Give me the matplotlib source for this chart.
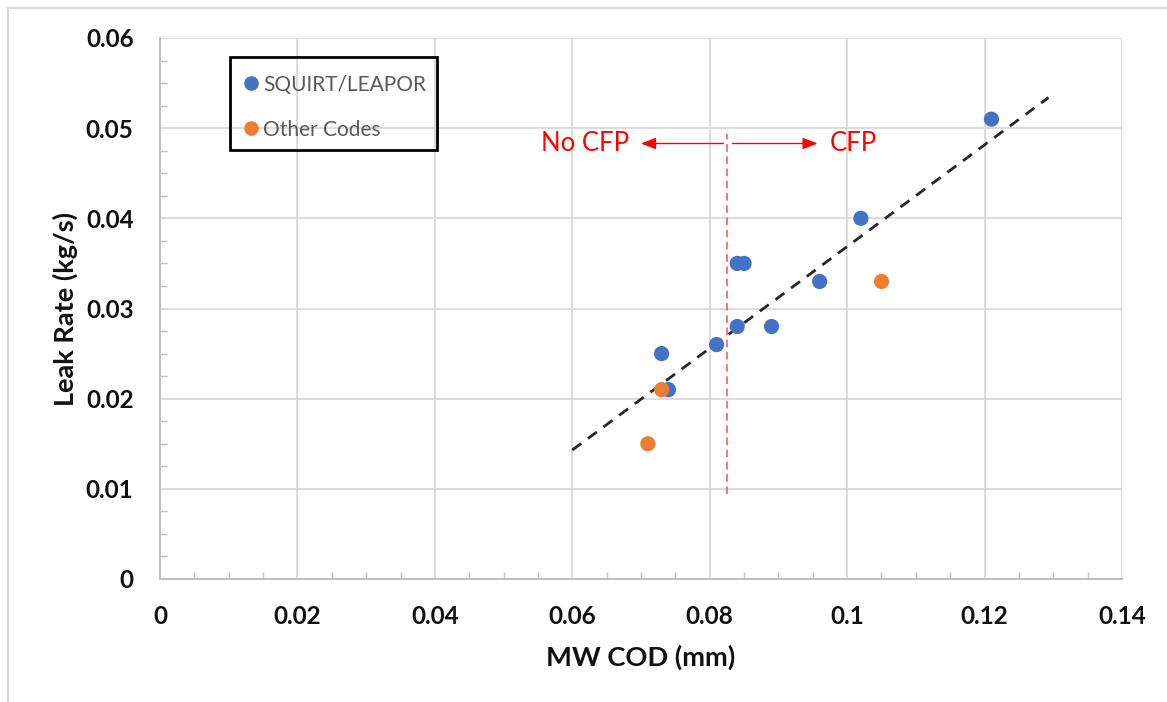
import matplotlib
matplotlib.use("Agg")
import matplotlib.pyplot as plt
from matplotlib.ticker import MultipleLocator, FuncFormatter
from matplotlib.lines import Line2D
from matplotlib.patches import Rectangle

plt.rcParams['font.family'] = ['Lato', 'DejaVu Sans']

# ---- data ----
squirt_x = [0.121, 0.102, 0.084, 0.085, 0.096, 0.084, 0.089, 0.081, 0.073, 0.074]
squirt_y = [0.051, 0.040, 0.035, 0.035, 0.033, 0.028, 0.028, 0.026, 0.025, 0.021]
other_x = [0.073, 0.071, 0.105]
other_y = [0.021, 0.015, 0.033]
trend_x = [0.060, 0.1293]
trend_y = [0.0143, 0.0534]
cfp_x = 0.0825
cfp_y = [0.0094, 0.0494]
arrow_y = 0.0483
left_arrow_x = [0.0820, 0.0700]
right_arrow_x = [0.0833, 0.0957]
series_names = ["SQUIRT/LEAPOR", "Other Codes"]
x_label = "MW COD (mm)"
y_label = "Leak Rate (kg/s)"

W, H = 1167, 702
fig = plt.figure(figsize=(W / 100, H / 100), dpi=100)
ax = fig.add_axes([160 / W, 1 - 579 / H, (1122 - 160) / W, (579 - 38) / H])

blue = "#4472C4"
orange = "#ED7D31"
grid_c = "#d9d9d9"
spine_c = "#bfbfbf"

ax.set_xlim(0, 0.14)
ax.set_ylim(0, 0.06)
ax.xaxis.set_major_locator(MultipleLocator(0.02))
ax.xaxis.set_minor_locator(MultipleLocator(0.005))
ax.yaxis.set_major_locator(MultipleLocator(0.01))
ax.yaxis.set_minor_locator(MultipleLocator(0.0025))

fmt = FuncFormatter(lambda v, p: ("%.2f" % v).rstrip('0').rstrip('.') if v != 0 else "0")
ax.xaxis.set_major_formatter(fmt)
ax.yaxis.set_major_formatter(fmt)

ax.grid(True, which='major', color=grid_c, linewidth=1.3, zorder=0)
for s in ['top', 'right']:
    ax.spines[s].set_visible(False)
for s in ['left', 'bottom']:
    ax.spines[s].set_color(spine_c)
    ax.spines[s].set_linewidth(1.4)
ax.tick_params(which='major', length=0, labelsize=17.5, labelcolor='#111111')
ax.tick_params(axis='y', pad=19)
ax.tick_params(axis='x', pad=19)
ax.tick_params(which='minor', direction='in', length=5, width=1.0, color=spine_c)
for lab in ax.get_xticklabels() + ax.get_yticklabels():
    lab.set_fontweight('bold')

ax.set_xlabel(x_label, fontsize=19.7, fontweight='bold', labelpad=12, color='#111111')
ax.set_ylabel(y_label, fontsize=19.5, fontweight='bold', labelpad=6, color='#111111')

# trend line
ax.plot(trend_x, trend_y, color='#262626', linewidth=2.0, linestyle=(0, (4, 3)), zorder=3)

# CFP threshold
ax.plot([cfp_x, cfp_x], cfp_y, color='#FF4D4D', linewidth=1.1, linestyle=(0, (5, 3)), zorder=2)
ax.annotate("", xy=(left_arrow_x[1], arrow_y), xytext=(left_arrow_x[0], arrow_y),
            arrowprops=dict(arrowstyle='-|>,head_length=0.9,head_width=0.35', color='#FF0000', lw=1.0,
                            shrinkA=0, shrinkB=0))
ax.annotate("", xy=(right_arrow_x[1], arrow_y), xytext=(right_arrow_x[0], arrow_y),
            arrowprops=dict(arrowstyle='-|>,head_length=0.9,head_width=0.35', color='#FF0000', lw=1.0,
                            shrinkA=0, shrinkB=0))
ax.text(0.0683, arrow_y, "No CFP", color='#FF0000', fontsize=18.5, ha='right', va='center')
ax.text(0.0975, arrow_y, "CFP", color='#FF0000', fontsize=18.5, ha='left', va='center')

# points
ax.scatter(squirt_x, squirt_y, s=120, color=blue, edgecolors='none', zorder=4)
ax.scatter(other_x, other_y, s=120, color=orange, edgecolors='none', zorder=5)

handles = [Line2D([], [], marker='o', linestyle='none', markersize=10.5, color=blue, markeredgewidth=0),
           Line2D([], [], marker='o', linestyle='none', markersize=10.5, color=orange, markeredgewidth=0)]
leg_box = Rectangle((230 / W, 1 - 150 / H), (437 - 230) / W, (150 - 57) / H, transform=fig.transFigure,
                    facecolor='none', edgecolor='#000000', linewidth=2.0, zorder=10)
fig.add_artist(leg_box)
leg = fig.legend(handles, series_names, loc='upper left', bbox_to_anchor=(231 / W, 1 - 62 / H),
                 fontsize=15, frameon=False, borderpad=0.6, labelspacing=1.2,
                 handlelength=0.7, handletextpad=0.25, borderaxespad=0, labelcolor='#595959')
leg.set_zorder(11)

# outer chart border (top and left visible)
fig.add_artist(Line2D([8 / W, 1], [1 - 8 / H, 1 - 8 / H], transform=fig.transFigure, color='#d9d9d9', lw=1.5))
fig.add_artist(Line2D([8 / W, 8 / W], [0, 1 - 8 / H], transform=fig.transFigure, color='#d9d9d9', lw=1.5))

fig.savefig("out.png", dpi=100)
